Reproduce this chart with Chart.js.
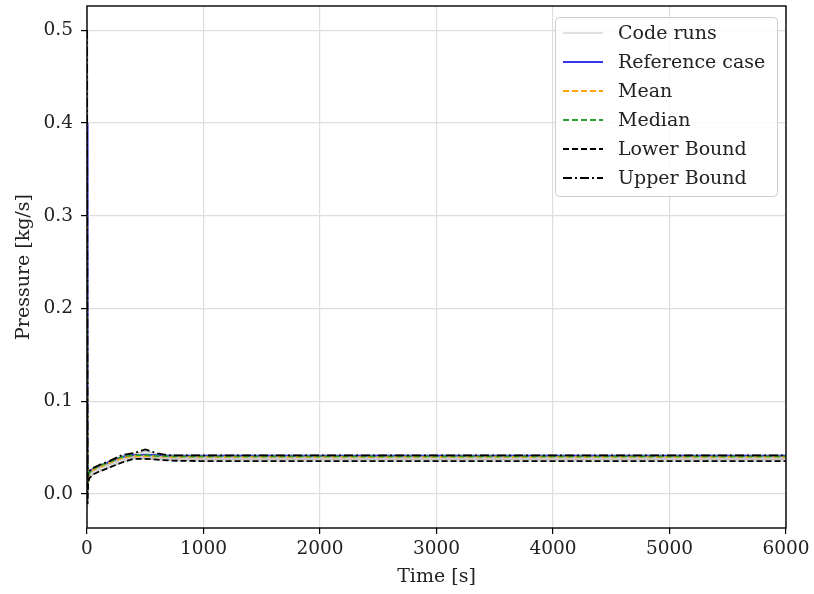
<!DOCTYPE html>
<html>
<head>
<meta charset="utf-8">
<script src="https://cdn.jsdelivr.net/npm/chart.js@4"></script>
<style>
html,body{margin:0;padding:0;background:#fff;}
#wrap{width:814px;height:594px;position:relative;}
</style>
</head>
<body>
<div id="wrap"><canvas id="c" width="814" height="594"></canvas></div>
<script>
const times     = [0, 5, 10, 20, 50, 100, 200, 300, 400, 500, 600, 700, 800, 1000, 1500, 2000, 3000, 4000, 5000, 6000];
const reference = [0.40, 0.012, 0.021, 0.024, 0.027, 0.030, 0.035, 0.040, 0.042, 0.0425, 0.042, 0.0415, 0.0415, 0.0415, 0.0415, 0.0415, 0.0415, 0.0415, 0.0415, 0.0415];
const meanVals  = [0.30, 0.008, 0.019, 0.022, 0.026, 0.029, 0.034, 0.039, 0.041, 0.041, 0.0405, 0.0402, 0.0400, 0.0400, 0.0400, 0.0400, 0.0400, 0.0400, 0.0400, 0.0400];
const medianVals= [0.28, 0.009, 0.020, 0.023, 0.027, 0.030, 0.035, 0.040, 0.042, 0.042, 0.041, 0.0408, 0.0406, 0.0405, 0.0405, 0.0405, 0.0405, 0.0405, 0.0405, 0.0405];
const lowerBound= [0.10, -0.011, 0.012, 0.017, 0.021, 0.024, 0.029, 0.034, 0.038, 0.038, 0.037, 0.0362, 0.0358, 0.0355, 0.0355, 0.0355, 0.0355, 0.0355, 0.0355, 0.0355];
const upperBound= [0.50, 0.018, 0.023, 0.025, 0.028, 0.031, 0.036, 0.042, 0.044, 0.048, 0.044, 0.0418, 0.0416, 0.0416, 0.0416, 0.0416, 0.0416, 0.0416, 0.0416, 0.0416];
const run1 = [0.50, 0.015, 0.022, 0.025, 0.028, 0.031, 0.036, 0.041, 0.043, 0.046, 0.043, 0.0418, 0.0416, 0.0416, 0.0416, 0.0416, 0.0416, 0.0416, 0.0416, 0.0416];
const run2 = [0.45, 0.012, 0.021, 0.024, 0.027, 0.030, 0.035, 0.040, 0.042, 0.043, 0.042, 0.0412, 0.0411, 0.0410, 0.0410, 0.0410, 0.0410, 0.0410, 0.0410, 0.0410];
const run3 = [0.40, 0.010, 0.020, 0.023, 0.027, 0.030, 0.035, 0.040, 0.042, 0.042, 0.041, 0.0406, 0.0405, 0.0405, 0.0405, 0.0405, 0.0405, 0.0405, 0.0405, 0.0405];
const run4 = [0.35, 0.008, 0.019, 0.022, 0.026, 0.029, 0.034, 0.039, 0.041, 0.041, 0.040, 0.0400, 0.0400, 0.0400, 0.0400, 0.0400, 0.0400, 0.0400, 0.0400, 0.0400];
const run5 = [0.30, 0.005, 0.018, 0.021, 0.025, 0.028, 0.033, 0.038, 0.040, 0.040, 0.039, 0.0392, 0.0390, 0.0390, 0.0390, 0.0390, 0.0390, 0.0390, 0.0390, 0.0390];
const run6 = [0.25, 0.002, 0.016, 0.020, 0.024, 0.027, 0.032, 0.037, 0.040, 0.039, 0.038, 0.0382, 0.0380, 0.0380, 0.0380, 0.0380, 0.0380, 0.0380, 0.0380, 0.0380];
const run7 = [0.22, -0.004, 0.014, 0.018, 0.022, 0.025, 0.030, 0.035, 0.039, 0.039, 0.038, 0.0372, 0.0370, 0.0370, 0.0370, 0.0370, 0.0370, 0.0370, 0.0370, 0.0370];
const run8 = [0.20, -0.011, 0.012, 0.017, 0.021, 0.024, 0.029, 0.034, 0.038, 0.038, 0.037, 0.0362, 0.0358, 0.0356, 0.0356, 0.0356, 0.0356, 0.0356, 0.0356, 0.0356];
const runs = [run1, run2, run3, run4, run5, run6, run7, run8];
const xTicks = [0, 1000, 2000, 3000, 4000, 5000, 6000];
const yTicks = [0.0, 0.1, 0.2, 0.3, 0.4, 0.5];

const pts = arr => times.map((t, i) => ({x: t, y: arr[i]}));
const FONT = "'DejaVu Serif', serif";

const datasets = [];
runs.forEach((r, i) => datasets.push({
  label: 'Code runs', data: pts(r), borderColor: '#c4c4c4', borderWidth: 1.2,
  order: 20, legendHide: i > 0
}));
datasets.push({label: 'Reference case', data: pts(reference), borderColor: '#3535f2', borderWidth: 1.8, order: 6});
datasets.push({label: 'Mean', data: pts(meanVals), borderColor: '#ffa500', borderWidth: 1.8, borderDash: [6, 3], order: 5});
datasets.push({label: 'Median', data: pts(medianVals), borderColor: '#2ca02c', borderWidth: 1.8, borderDash: [6, 3], order: 4});
datasets.push({label: 'Lower Bound', data: pts(lowerBound), borderColor: '#000000', borderWidth: 1.8, borderDash: [6, 3], order: 3});
datasets.push({label: 'Upper Bound', data: pts(upperBound), borderColor: '#000000', borderWidth: 1.8, borderDash: [9, 3, 2, 3], order: 2});
datasets.forEach(d => { d.showLine = true; d.pointRadius = 0; d.fill = false; d.tension = 0; });

const framePlugin = {
  id: 'frame',
  afterDatasetsDraw(chart) {
    const {ctx, chartArea: a} = chart;
    ctx.save();
    ctx.strokeStyle = '#000';
    ctx.lineWidth = 1.4;
    ctx.strokeRect(a.left, a.top, a.right - a.left, a.bottom - a.top);
    ctx.restore();
  }
};

const legendPlugin = {
  id: 'mplLegend',
  afterDraw(chart) {
    const ctx = chart.ctx;
    const items = chart.data.datasets.filter(d => !d.legendHide);
    const bx = 555, by = 17, bw = 222, bh = 179;
    ctx.save();
    ctx.fillStyle = 'rgba(255,255,255,0.85)';
    ctx.strokeStyle = '#cccccc';
    ctx.lineWidth = 1;
    ctx.beginPath();
    ctx.roundRect(bx + 0.5, by + 0.5, bw, bh, 4);
    ctx.fill();
    ctx.stroke();
    ctx.font = "19px " + FONT;
    ctx.textBaseline = 'middle';
    items.forEach((d, i) => {
      const y = 33 + i * 29;
      ctx.strokeStyle = d.borderColor;
      ctx.lineWidth = d.borderWidth;
      ctx.setLineDash(d.borderDash || []);
      ctx.beginPath();
      ctx.moveTo(563, y);
      ctx.lineTo(603, y);
      ctx.stroke();
      ctx.setLineDash([]);
      ctx.fillStyle = '#222';
      ctx.fillText(d.label, 618, y + 1);
    });
    ctx.restore();
  }
};

new Chart(document.getElementById('c'), {
  type: 'scatter',
  data: {datasets},
  options: {
    responsive: false,
    animation: false,
    layout: {padding: {top: 6, right: 28, left: 0, bottom: 0}},
    plugins: {legend: {display: false}, tooltip: {enabled: false}},
    scales: {
      x: {
        type: 'linear', min: 0, max: 6000,
        afterBuildTicks: ax => { ax.ticks = xTicks.map(v => ({value: v})); },
        afterFit: s => { s.height = 66; s.paddingLeft = 0; s.paddingRight = 0; },
        grid: {color: '#dedede', lineWidth: 1.2, tickColor: '#000', tickLength: 6, tickWidth: 1.2},
        border: {display: false},
        ticks: {color: '#222', font: {family: FONT, size: 18.5}, padding: 4, maxRotation: 0, callback: v => String(v)},
        title: {display: true, text: 'Time [s]', color: '#222', font: {family: FONT, size: 19}, padding: {top: 2, bottom: 6}}
      },
      y: {
        type: 'linear', min: -0.0366, max: 0.526,
        afterBuildTicks: ax => { ax.ticks = yTicks.map(v => ({value: v})); },
        afterFit: s => { s.width = 87; s.paddingTop = 0; s.paddingBottom = 0; },
        grid: {color: '#dedede', lineWidth: 1.2, tickColor: '#000', tickLength: 6, tickWidth: 1.2},
        border: {display: false},
        ticks: {color: '#222', font: {family: FONT, size: 18.5}, padding: 8, callback: v => v.toFixed(1)},
        title: {display: true, text: 'Pressure [kg/s]', color: '#222', font: {family: FONT, size: 19}, padding: {top: 13, bottom: 4}}
      }
    }
  },
  plugins: [framePlugin, legendPlugin]
});
</script>
</body>
</html>
